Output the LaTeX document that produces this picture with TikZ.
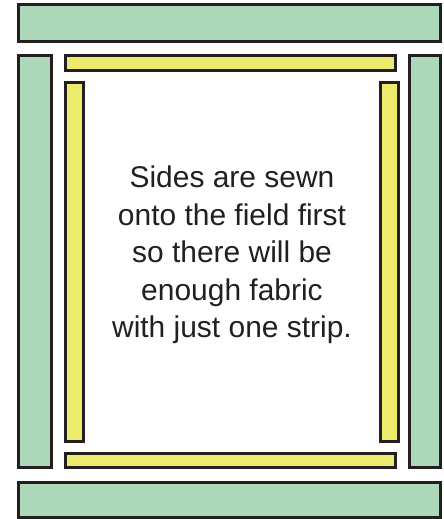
\documentclass[tikz,border=0pt]{standalone}
\usepackage{fontspec}
\setmainfont{Liberation Sans}
\usepackage{tikz}
\usetikzlibrary{calc, positioning}
\definecolor{bordercolor}{RGB}{173,217,186}
\definecolor{stripcolor}{RGB}{236,235,110}
\definecolor{edgecolor}{RGB}{35,31,32}
\tikzset{
  borderstrip/.style={fill=bordercolor, draw=edgecolor, line width=0.075cm},
  sidestrip/.style={fill=stripcolor, draw=edgecolor, line width=0.075cm}
}

\begin{document}
\begin{tikzpicture}[x=0.025cm, y=-0.025cm]
  \useasboundingbox (0,0) rectangle (444,519);
  % outer border, top and bottom
  \draw[borderstrip] (18.5,4.5) rectangle (440.5,41.5);
  \draw[borderstrip] (18.5,482.5) rectangle (440.5,517.5);
  % outer border, sides
  \draw[borderstrip] (18.5,55.5) rectangle (51.5,467.5);
  \draw[borderstrip] (409.5,55.5) rectangle (440.5,467.5);
  % inner strips, top and bottom
  \draw[sidestrip] (65.5,55.5) rectangle (395.5,70.5);
  \draw[sidestrip] (65.5,453.5) rectangle (395.5,467.5);
  % inner strips, sides
  \draw[sidestrip] (65.5,82.5) rectangle (83.5,441.5);
  \draw[sidestrip] (380.5,82.5) rectangle (398.5,441.5);
  % note
  \node[align=center, inner sep=0pt, text=edgecolor,
        font=\fontsize{21.3}{26.7}\selectfont] (note) at (232,255)
    {Sides are sewn\\onto the field first\\so there will be\\enough fabric\\with just one strip.};
\end{tikzpicture}
\end{document}
